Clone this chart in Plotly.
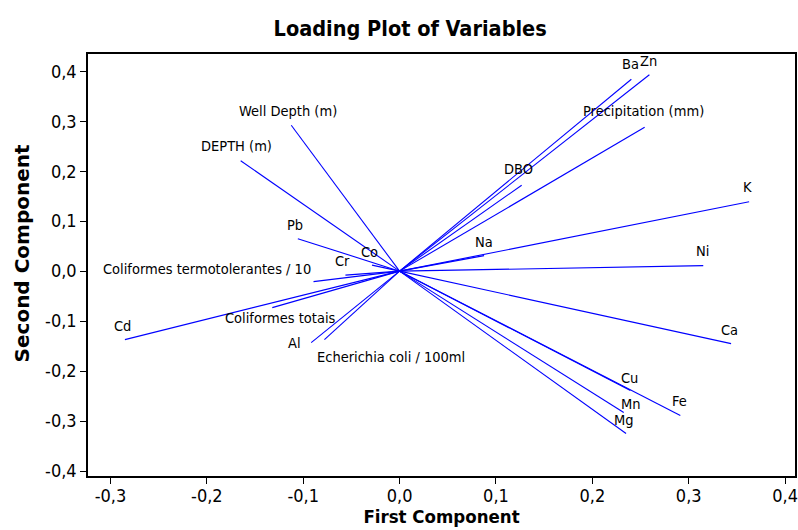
import plotly.graph_objects as go

# Loadings (first component, second component)
variables = ["Ba", "Zn", "Precipitation (mm)", "DBO", "K", "Na", "Ni", "Ca",
             "Cu", "Fe", "Mn", "Mg", "Well Depth (m)", "DEPTH (m)", "Pb", "Co",
             "Cr", "Coliformes termotolerantes / 10", "Coliformes totais", "Cd",
             "Al", "Echerichia coli / 100ml"]
pc1 = [0.2405, 0.2592, 0.2543, 0.1267, 0.3627, 0.0877, 0.3151, 0.3440,
       0.2395, 0.2913, 0.2326, 0.2350, -0.1124, -0.1649, -0.1056, -0.0286,
       -0.0562, -0.0893, -0.1321, -0.2850, -0.0917, -0.0780]
pc2 = [0.384, 0.393, 0.288, 0.172, 0.139, 0.031, 0.011, -0.145,
       -0.239, -0.289, -0.283, -0.325, 0.292, 0.221, 0.065, 0.012,
       -0.008, -0.021, -0.073, -0.137, -0.143, -0.137]

x_ticks = [-0.3, -0.2, -0.1, 0.0, 0.1, 0.2, 0.3, 0.4]
y_ticks = [-0.4, -0.3, -0.2, -0.1, 0.0, 0.1, 0.2, 0.3, 0.4]

# label offsets in pixels (dx, dy up)
label_dx = [-1, -1, -1, -3, -2, 0, -1, -2, -1, -1, 7, -2, -3, -4, -3, -3, -3,
            -107, 8, -2, -17, 67]
label_dy = [15, 14, 16, 16, 15, 14, 15, 14, 13, 15, 9, 14, 14, 15, 14, 13, 14,
            13, -10, 14, 0, -17]


def fmt(v):
    return f"{v:.1f}".replace(".", ",")


xs, ys = [], []
for a, b in zip(pc1, pc2):
    xs += [0, a, None]
    ys += [0, b, None]

fig = go.Figure()
fig.add_trace(go.Scatter(x=xs, y=ys, mode="lines",
                         line=dict(color="#0000FF", width=1.1),
                         hoverinfo="skip", showlegend=False))

COND = "DejaVu Sans Condensed, DejaVu Sans"
for name, a, b, dx, dy in zip(variables, pc1, pc2, label_dx, label_dy):
    fig.add_annotation(x=a, y=b, text=name, showarrow=False,
                       xshift=dx, yshift=dy,
                       font=dict(family=COND, size=14.5, color="black"))

# y-axis title
fig.add_annotation(x=-0.093, y=0.528, xref="paper", yref="paper",
                   text="<b>Second Component</b>", textangle=-90, showarrow=False,
                   xanchor="center", yanchor="middle",
                   font=dict(family="DejaVu Sans", size=20, color="black"))

fig.update_layout(
    width=798, height=530,
    margin=dict(l=88, r=1, t=54, b=54),
    paper_bgcolor="white", plot_bgcolor="white",
    title=dict(text="<b>Loading Plot of Variables</b>", x=0.514, xanchor="center",
               y=0.947, yanchor="middle",
               font=dict(family=COND, size=21.5, color="black")),
    xaxis=dict(range=[-0.3233, 0.4103], tickvals=x_ticks,
               ticktext=[fmt(v) for v in x_ticks],
               showgrid=False, zeroline=False,
               showline=True, linecolor="black", linewidth=1.5, mirror=True,
               ticks="outside", ticklen=6, tickcolor="black",
               ticklabelstandoff=-3,
               tickfont=dict(family=COND, size=18, color="black"),
               title=dict(text="<b>First Component</b>", standoff=2,
                          font=dict(family=COND, size=18.5, color="black"))),
    yaxis=dict(range=[-0.41, 0.4346], tickvals=y_ticks,
               ticktext=[fmt(v) for v in y_ticks],
               showgrid=False, zeroline=False,
               showline=True, linecolor="black", linewidth=1.5, mirror=True,
               ticks="outside", ticklen=6, tickcolor="black",
               tickfont=dict(family=COND, size=18, color="black")),
)

fig.write_html("out.html")
